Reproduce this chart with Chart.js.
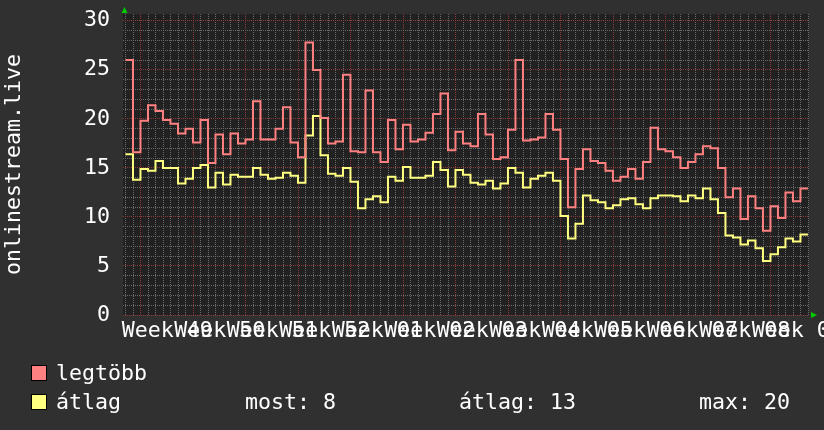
<!DOCTYPE html>
<html>
<head>
<meta charset="utf-8">
<script src="https://cdn.jsdelivr.net/npm/chart.js@4"></script>
<style>
  html, body { margin: 0; padding: 0; background: #303030; }
  canvas { display: block; }
</style>
</head>
<body>
<canvas id="grafikon" width="824" height="430"></canvas>
<script>
const weekLabels = ["Week 49", "Week 50", "Week 51", "Week 52", "Week 01", "Week 02", "Week 03",
  "Week 04", "Week 05", "Week 06", "Week 07", "Week 08", "Week 09"];

// napi ertekek, az elso nap a Week 49 vonala elott kezdodik
const legtobb = [
  26.0, 16.6, 19.8, 21.4, 20.8, 19.9, 19.5, 18.5, 19.0, 17.6,
  19.9, 15.5, 18.4, 16.4, 18.5, 17.5, 17.9, 21.8, 17.9, 17.9,
  19.0, 21.2, 17.6, 16.1, 27.8, 25.0, 20.1, 17.5, 17.7, 24.5,
  16.7, 16.6, 22.9, 16.6, 15.6, 19.9, 16.9, 19.4, 17.7, 17.9,
  18.6, 20.5, 22.6, 16.8, 18.7, 17.5, 17.2, 20.5, 18.4, 15.9,
  16.1, 18.9, 26.0, 17.8, 17.9, 18.1, 20.5, 18.9, 15.9, 11.0,
  14.9, 16.9, 15.7, 15.5, 14.7, 13.7, 14.1, 14.9, 13.9, 15.6,
  19.1, 16.9, 16.7, 16.1, 15.0, 15.6, 16.4, 17.2, 17.0, 15.0,
  12.0, 12.9, 9.8, 12.1, 10.9, 8.6, 11.1, 9.9, 12.5, 11.6,
  12.9
];
const atlag = [
  16.4, 13.8, 14.9, 14.7, 15.7, 15.0, 15.0, 13.4, 13.9, 15.0,
  15.3, 13.0, 14.5, 13.3, 14.3, 14.1, 14.1, 15.0, 14.3, 13.9,
  14.0, 14.5, 14.2, 13.5, 18.3, 20.3, 16.3, 14.4, 14.2, 15.0,
  13.6, 10.9, 11.8, 12.1, 11.5, 14.1, 13.7, 15.1, 14.0, 14.0,
  14.2, 15.6, 14.8, 13.1, 14.8, 14.3, 13.5, 13.3, 13.7, 12.9,
  13.4, 15.0, 14.5, 13.0, 13.9, 14.2, 14.5, 13.7, 10.1, 7.8,
  9.3, 12.2, 11.7, 11.5, 10.9, 11.2, 11.8, 11.9, 11.3, 10.9,
  11.9, 12.2, 12.2, 12.1, 11.6, 12.2, 11.9, 12.9, 11.8, 10.4,
  8.1, 7.9, 7.2, 7.6, 6.8, 5.5, 6.2, 6.9, 7.8, 7.5,
  8.2
];
const statLabels = ["most:", "átlag:", "max:"];
const statValues = [8, 13, 20];
const yTicks = [];
for (let v = 0; v <= 30; v++) yTicks.push(v);
const yAxisTitle = "onlinestream.live";

// napokban, 0 = Week 49 kezdete
const startDay = -2.07;
const xMin = -2.4;
const xMax = 89.07;
const dayTicks = [];
for (let d = -2; d <= 89; d++) dayTicks.push(d);
const weekMid = weekLabels.map((_, k) => 3.5 + 7 * k);

const font = "'DejaVu Sans Mono', monospace";
const fontSize = 21.6;
const minorColor = "#6a6a6a";
const majorColor = "#8a3a3a";

const pontok = vals => vals.map((v, i) => ({ x: startDay + i, y: v }))
  .concat([{ x: startDay + vals.length, y: vals[vals.length - 1] }]);

const rajz = {
  id: "rajz",
  beforeDraw(chart) {
    const { ctx, chartArea: a } = chart;
    ctx.save();
    ctx.fillStyle = "#303030";
    ctx.fillRect(0, 0, chart.width, chart.height);
    ctx.fillStyle = "#212121";
    ctx.fillRect(a.left, a.top, a.right - a.left, a.bottom - a.top);
    ctx.restore();
  },
  afterDraw(chart) {
    const { ctx, chartArea: a } = chart;
    ctx.save();
    // nyilak
    ctx.fillStyle = "#00cc00";
    ctx.beginPath();
    ctx.moveTo(a.left + 1.5, a.top - 7);
    ctx.lineTo(a.left + 4.5, a.top - 1);
    ctx.lineTo(a.left - 1.5, a.top - 1);
    ctx.fill();
    ctx.beginPath();
    ctx.moveTo(a.right + 8, a.bottom);
    ctx.lineTo(a.right + 2, a.bottom - 3);
    ctx.lineTo(a.right + 2, a.bottom + 3);
    ctx.fill();

    // jelmagyarazat
    ctx.font = fontSize + "px " + font;
    ctx.textBaseline = "alphabetic";
    chart.data.datasets.forEach((ds, i) => {
      const y = 365 + i * 29;
      ctx.fillStyle = ds.borderColor;
      ctx.fillRect(31, y, 16, 16);
      ctx.strokeStyle = "#000";
      ctx.lineWidth = 1;
      ctx.strokeRect(31.5, y + 0.5, 15, 15);
      ctx.fillStyle = "#fff";
      ctx.fillText(ds.label, 56, y + 15);
    });
    const statX = [245, 459, 699];
    statLabels.forEach((t, i) => {
      ctx.fillText(t + " " + statValues[i], statX[i], 409);
    });
    ctx.restore();
  }
};

new Chart(document.getElementById("grafikon"), {
  type: "line",
  data: {
    datasets: [
      {
        label: "legtöbb",
        data: pontok(legtobb),
        borderColor: "#ff8080",
        borderWidth: 2,
        stepped: true,
        pointRadius: 0,
        fill: false,
      },
      {
        label: "átlag",
        data: pontok(atlag),
        borderColor: "#ffff80",
        borderWidth: 2,
        stepped: true,
        pointRadius: 0,
        fill: false,
      },
    ],
  },
  options: {
    responsive: false,
    animation: false,
    events: [],
    layout: { padding: { left: 0, top: 14, right: 15, bottom: 0 } },
    plugins: { legend: { display: false }, tooltip: { enabled: false } },
    scales: {
      x: {
        type: "linear",
        min: xMin,
        max: xMax,
        bounds: "data",
        afterBuildTicks: s => {
          s.ticks = dayTicks.concat(weekMid).sort((p, q) => p - q).map(v => ({ value: v }));
        },
        afterFit: s => { s.height = 115; s.paddingLeft = 0; s.paddingRight = 0; },
        grid: {
          color: c => (c.tick && c.tick.value % 7 === 0 ? majorColor : minorColor),
          lineWidth: c => (c.tick && Number.isInteger(c.tick.value) ? 1 : 0),
          drawTicks: false,
        },
        border: { display: false, dash: [1, 1] },
        ticks: {
          autoSkip: false,
          maxRotation: 0,
          minRotation: 0,
          padding: 3,
          color: "#ffffff",
          font: { family: font, size: fontSize, lineHeight: 1.2 },
          callback: v => {
            const k = (v - 3.5) / 7;
            return Number.isInteger(k) ? weekLabels[k] : "";
          },
        },
      },
      y: {
        min: 0,
        max: 30.7,
        bounds: "data",
        afterBuildTicks: s => { s.ticks = yTicks.map(v => ({ value: v })); },
        afterFit: s => { s.width = 123; s.paddingTop = 0; s.paddingBottom = 0; },
        grid: {
          color: c => (c.tick && c.tick.value % 5 === 0 ? majorColor : minorColor),
          drawTicks: false,
        },
        border: { display: false, dash: [1, 1] },
        ticks: {
          autoSkip: false,
          padding: 13,
          color: "#ffffff",
          font: { family: font, size: fontSize, lineHeight: 1.2 },
          callback: v => (v % 5 === 0 ? String(v) : ""),
        },
        title: {
          display: true,
          text: yAxisTitle,
          color: "#ffffff",
          font: { family: font, size: fontSize, lineHeight: 1.2 },
          padding: { top: 1, bottom: 0 },
        },
      },
    },
  },
  plugins: [rajz],
});
</script>
</body>
</html>
